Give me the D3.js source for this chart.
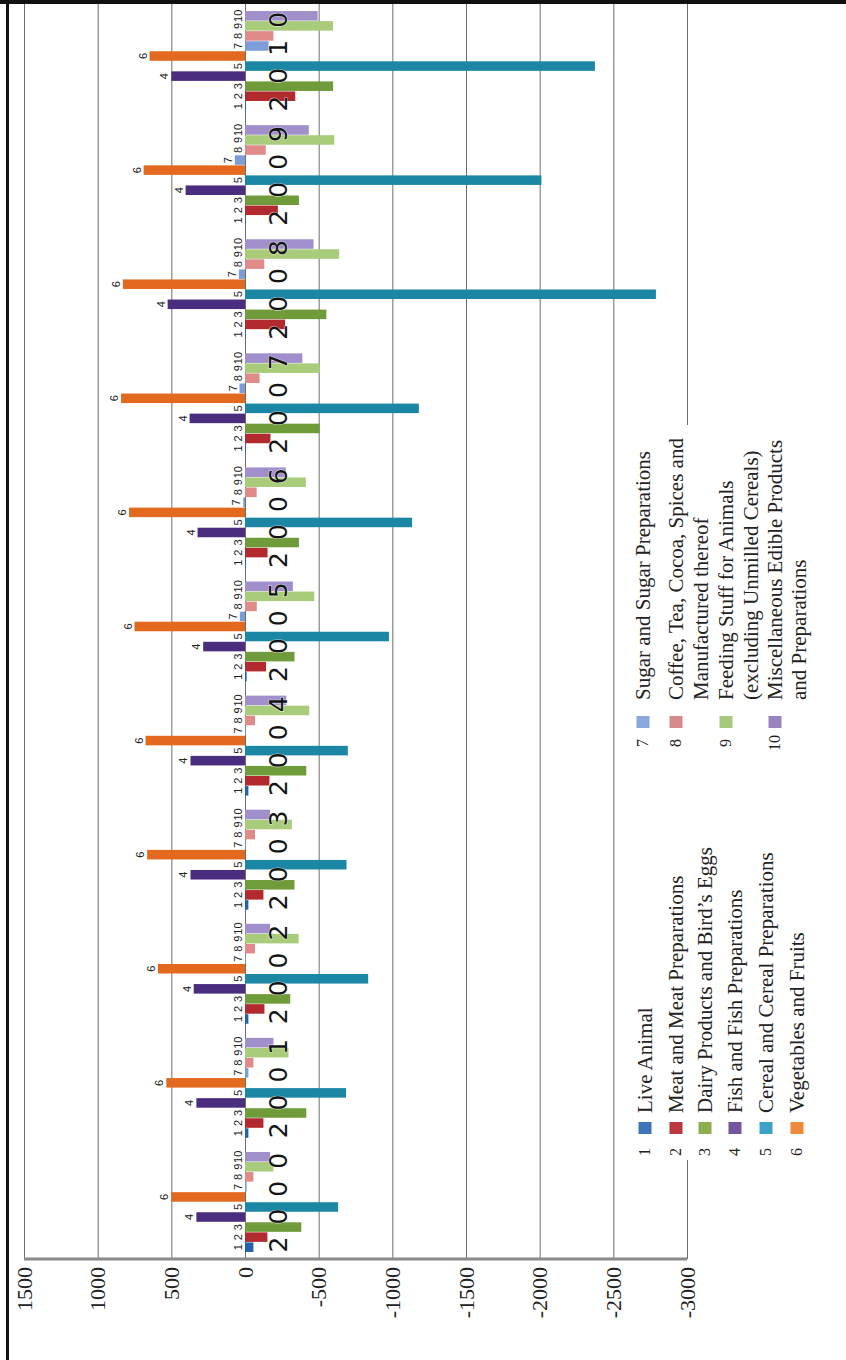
<!DOCTYPE html>
<html><head><meta charset="utf-8">
<script src="https://cdn.jsdelivr.net/npm/d3@7"></script>
<style>
html,body{margin:0;padding:0;background:#fff;}
svg{display:block;}
</style></head><body>
<svg id="chart" width="846" height="1360"></svg>
<script>
// ---------------- data ----------------
const years = ["2000","2001","2002","2003","2004","2005","2006","2007","2008","2009","2010"];
const categoryNumbers = ["1","2","3","4","5","6","7","8","9","10"];
const categoryNames = [
  ["Live Animal"],
  ["Meat and Meat Preparations"],
  ["Dairy Products and Bird\u2019s Eggs"],
  ["Fish and Fish Preparations"],
  ["Cereal and Cereal Preparations"],
  ["Vegetables and Fruits"],
  ["Sugar and Sugar Preparations"],
  ["Coffee, Tea, Cocoa, Spices and", "Manufactured thereof"],
  ["Feeding Stuff for Animals", "(excluding Unmilled Cereals)"],
  ["Miscellaneous Edible Products", "and Preparations"]
];
const valueTicks = [1500, 1000, 500, 0, -500, -1000, -1500, -2000, -2500, -3000];

// series values per year 2000..2010
const liveAnimal = [-57, -23, -23, -23, -23, -11, -7, -5, -5, -3, -5];
const meat       = [-152, -125, -132, -125, -166, -143, -153, -173, -272, -223, -341];
const dairy      = [-382, -416, -307, -336, -416, -336, -366, -507, -552, -366, -598];
const fish       = [330, 330, 348, 370, 370, 284, 322, 376, 525, 403, 500];
const cereal     = [-632, -686, -836, -689, -698, -977, -1134, -1180, -2789, -2012, -2375];
const vegetables = [500, 534, 591, 664, 675, 750, 787, 841, 829, 688, 648];
const sugar      = [-11, -23, -5, -5, -5, 35, 12, 37, 42, 69, -160];
const coffee     = [-57, -57, -68, -68, -68, -80, -79, -99, -131, -141, -193];
const feeding    = [-193, -295, -364, -318, -436, -470, -413, -507, -639, -606, -598];
const misc       = [-170, -193, -170, -170, -280, -325, -277, -389, -465, -433, -493];

const series = [liveAnimal, meat, dairy, fish, cereal, vegetables, sugar, coffee, feeding, misc];

// ---------------- style ----------------
const barColors = ["#2361ad","#b22a2e","#6f9b3a","#4b2d7f","#1b87a5","#e2691e","#7d9dd8","#e08a8a","#a9cc7a","#a08fca"];
const legendColors = ["#3b74b8","#b8383e","#8cae4c","#7456a0","#3aa2c2","#ee8a3a","#8aa8dc","#d88a8a","#a8c880","#9a84c0"];

const W = 846, H = 1360;
const svg = d3.select("#chart");

// landscape drawing group, rotated into the portrait page
const g = svg.append("g").attr("transform", `translate(0,${H}) rotate(-90)`);

const A0 = 101, A1 = 1356;           // category axis extent (landscape x)
const x0 = d3.scaleBand().domain(years).range([A0, A1]).paddingInner(0.115).paddingOuter(0.0575);
const x1 = d3.scaleBand().domain(d3.range(categoryNumbers.length)).range([0, x0.bandwidth()]).padding(0.05);
const y = d3.scaleLinear().domain([1500, -3000]).range([24, 687]);

// gridlines + value labels
const axis = d3.axisLeft(y)
  .tickValues(valueTicks)
  .tickSizeInner(-(A1 - A0))
  .tickSizeOuter(0)
  .tickPadding(8)
  .tickFormat(d => String(d));
const ax = g.append("g").attr("transform", `translate(${A0},0)`).call(axis);
ax.select(".domain").remove();
ax.selectAll(".tick line").attr("stroke", "#6e6e6e").attr("stroke-width", 1);
ax.selectAll(".tick text")
  .attr("fill", "#222")
  .style("font-family", "'Liberation Serif', 'DejaVu Serif', serif")
  .style("font-size", "22px");

// legend background (covers the gridline behind it)
g.append("rect")
  .attr("x", 200).attr("y", 626).attr("width", 735).attr("height", 220)
  .attr("fill", "#fff");

// category (floor) axis line
g.append("line")
  .attr("x1", A0).attr("x2", A0).attr("y1", y(1500)).attr("y2", y(-3000))
  .attr("stroke", "#8a8a8a").attr("stroke-width", 3);

// bars
const groups = g.selectAll("g.year").data(years).join("g")
  .attr("class", "year")
  .attr("transform", d => `translate(${x0(d)},0)`);

groups.selectAll("rect").data((d, i) => series.map((s, j) => ({ j, v: s[i] }))).join("rect")
  .attr("x", d => x1(d.j))
  .attr("width", x1.bandwidth())
  .attr("y", d => y(Math.max(d.v, 0)))
  .attr("height", d => Math.abs(y(d.v) - y(0)))
  .attr("fill", d => barColors[d.j]);

// small category number labels at the bar tops
groups.selectAll("text.num").data((d, i) => series.map((s, j) => ({ j, v: s[i] }))).join("text")
  .attr("class", "num")
  .attr("x", d => x1(d.j) + x1.bandwidth() / 2)
  .attr("y", d => y(Math.max(d.v, 0)) - 3)
  .attr("text-anchor", "middle")
  .attr("fill", "#222")
  .style("font-family", "'Liberation Sans Narrow', 'Liberation Sans', sans-serif")
  .style("font-size", "11px")
  .text(d => categoryNumbers[d.j]);

// big year labels across the groups
g.selectAll("text.yr").data(years).join("text")
  .attr("class", "yr")
  .attr("x", d => x0(d))
  .attr("y", 287)
  .attr("fill", "#141414")
  .attr("stroke", "#ffffff").attr("stroke-width", 1.2).attr("stroke-opacity", 0.6)
  .style("paint-order", "stroke")
  .style("font-family", "'DejaVu Sans', sans-serif")
  .style("font-size", "25px")
  .style("letter-spacing", "12px")
  .text(d => d);

// legend
const legendLayout = [
  { aNum: 208, aSw: 226, aText: 247, rows: [[645], [676], [705], [735], [766], [797]] , idx: [0,1,2,3,4,5] },
  { aNum: 617, aSw: 632, aText: 660, rows: [[643], [676, 701], [726, 751], [775, 799]], idx: [6,7,8,9] }
];
const lg = g.append("g").attr("class", "legend");
legendLayout.forEach(col => {
  col.idx.forEach((ci, k) => {
    const rows = col.rows[k];
    lg.append("text")
      .attr("x", col.aNum).attr("y", rows[0] + 5)
      .attr("text-anchor", "middle")
      .attr("fill", "#222")
      .style("font-family", "'Liberation Serif', serif")
      .style("font-size", "16px")
      .text(categoryNumbers[ci]);
    lg.append("rect")
      .attr("x", col.aSw).attr("y", rows[0] - 6.5)
      .attr("width", 12).attr("height", 13)
      .attr("fill", legendColors[ci]);
    categoryNames[ci].forEach((line, li) => {
      lg.append("text")
        .attr("x", col.aText).attr("y", rows[li] + 7)
        .attr("fill", "#222")
        .style("font-family", "'Liberation Serif', serif")
        .style("font-size", "21px")
        .text(line);
    });
  });
});

// page frame
svg.append("rect").attr("x", 0).attr("y", 0).attr("width", W).attr("height", 4).attr("fill", "#111");
svg.append("rect").attr("x", 6).attr("y", 0).attr("width", 3).attr("height", H).attr("fill", "#111");
</script>
</body></html>
